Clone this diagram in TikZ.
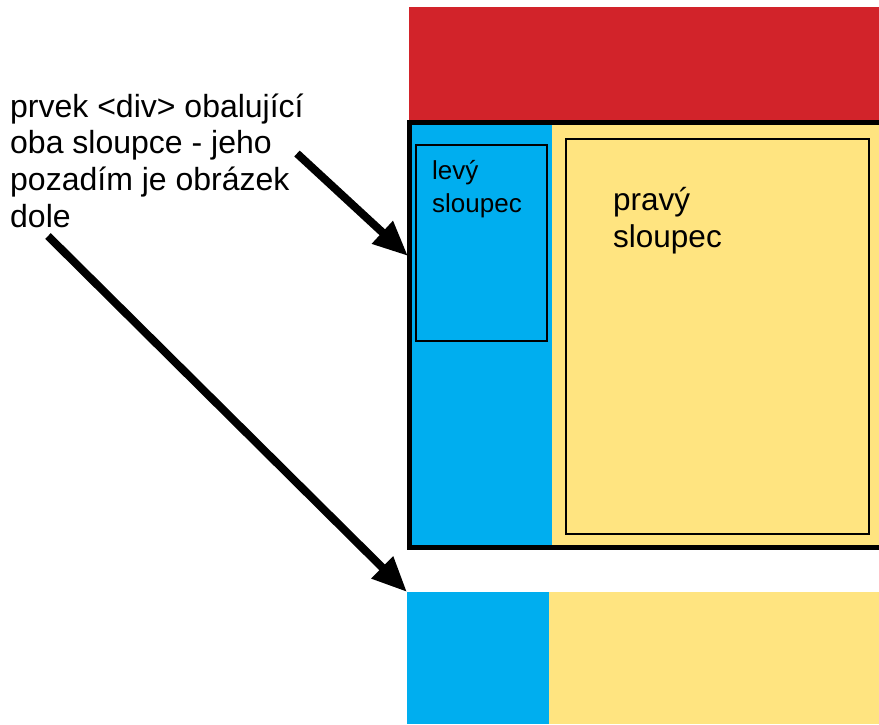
\documentclass[tikz,border=0pt]{standalone}
\usepackage{xcolor}
\usepackage{fontspec}
\setmainfont{Liberation Sans}
\usetikzlibrary{arrows.meta}
\definecolor{hlavicka}{RGB}{210,35,42}
\definecolor{modra}{RGB}{0,174,239}
\definecolor{zluta}{RGB}{255,228,128}

\begin{document}
\begin{tikzpicture}[x=1pt,y=-1pt,
    popis/.style={anchor=north west,inner sep=0pt,align=left},
    sipka/.style={line width=8pt,-{Triangle[length=35pt,width=29pt]}}]
    \useasboundingbox (0,0) rectangle (879,724);
    \clip (0,0) rectangle (879,724);
    % hlavicka
    \fill[hlavicka] (409,7) rectangle (879,120);
    % obalujici div se dvema sloupci
    \fill[modra] (409,122) rectangle (552,547);
    \fill[zluta] (552,122) rectangle (890,547);
    \draw[line width=2pt] (416,144.5) rectangle (546.5,341);
    \draw[line width=2pt] (566,139) rectangle (869,534);
    \draw[line width=5pt] (409.8,122.5) rectangle (895,547.5);
    % obrazek dole
    \fill[modra] (407,592) rectangle (549,724);
    \fill[zluta] (549,592) rectangle (879,724);
    % popisky
    \node[popis,font=\fontsize{32}{36.7}\selectfont] (obal) at (10,91.3)
        {\strut prvek <div> obalující\\oba sloupce - jeho\\pozadím je obrázek\\dole};
    \node[popis,font=\fontsize{26}{33.5}\selectfont] (levy) at (432,155.5)
        {\strut levý\\sloupec};
    \node[popis,font=\fontsize{31.5}{37.7}\selectfont] (pravy) at (613,183.6)
        {\strut pravý\\sloupec};
    % sipky
    \coordinate (ocas1) at (297,153.5);
    \coordinate (hrot1) at (408,256);
    \coordinate (ocas2) at (48,236);
    \coordinate (hrot2) at (407,592);
    \draw[sipka] (ocas1) -- (hrot1);
    \draw[sipka] (ocas2) -- (hrot2);
\end{tikzpicture}
\end{document}
